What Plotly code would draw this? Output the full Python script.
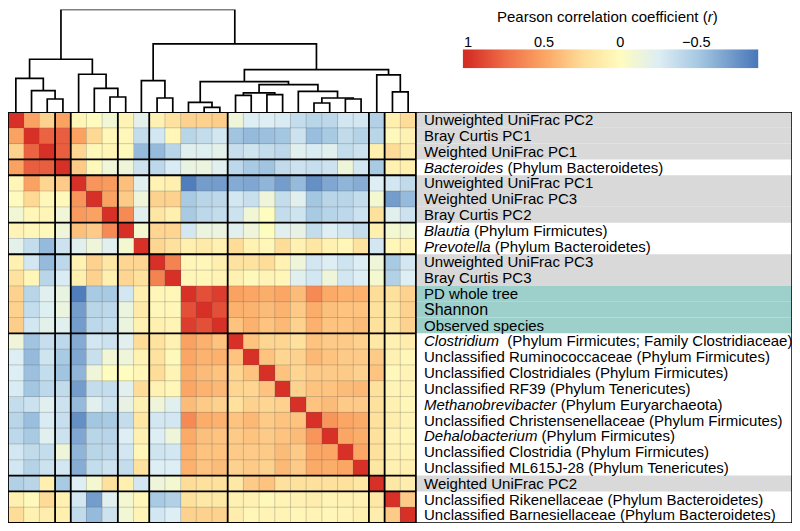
import numpy as np
import plotly.graph_objects as go

# ---------------- data ----------------
row_labels = [
    "Unweighted UniFrac PC2",
    "Bray Curtis PC1",
    "Weighted UniFrac PC1",
    "<i>Bacteroides</i> (Phylum Bacteroidetes)",
    "Unweighted UniFrac PC1",
    "Weighted UniFrac PC3",
    "Bray Curtis PC2",
    "<i>Blautia</i> (Phylum Firmicutes)",
    "<i>Prevotella</i> (Phylum Bacteroidetes)",
    "Unweighted UniFrac PC3",
    "Bray Curtis PC3",
    "PD whole tree",
    "<span style='font-size:16px'>Shannon</span>",
    "Observed species",
    "<i>Clostridium</i>\u00a0 (Phylum Firmicutes; Family Clostridiaceae)",
    "Unclassified Ruminococcaceae (Phylum Firmicutes)",
    "Unclassified Clostridiales (Phylum Firmicutes)",
    "Unclassified RF39 (Phylum Tenericutes)",
    "<i>Methanobrevibacter</i> (Phylum Euryarchaeota)",
    "Unclassified Christensenellaceae (Phylum Firmicutes)",
    "<i>Dehalobacterium</i> (Phylum Firmicutes)",
    "Unclassified Clostridia (Phylum Firmicutes)",
    "Unclassified ML615J-28 (Phylum Tenericutes)",
    "Weighted UniFrac PC2",
    "Unclassified Rikenellaceae (Phylum Bacteroidetes)",
    "Unclassified Barnesiellaceae (Phylum Bacteroidetes)",
]

# label category for each row: ordination PC, taxon, alpha diversity
row_kind = (["pc"] * 3 + ["taxon"] + ["pc"] * 3 + ["taxon"] * 2 + ["pc"] * 2 +
            ["alpha"] * 3 + ["taxon"] * 9 + ["pc"] + ["taxon"] * 2)

# upper triangle of the Pearson r matrix; row i lists r(i, j) for j = i+1 .. 25
upper_rows = [
    [0.52, 0.30, 0.52, 0.06, 0.02, -0.10, 0.07, -0.20, 0.09, 0.20, 0.30, 0.30, 0.32,
     -0.12, -0.25, -0.25, -0.27, -0.37, -0.42, -0.40, -0.30, -0.30, -0.45, 0.10, 0.25],
    [0.80, 0.82, 0.52, 0.27, 0.05, 0.04, -0.37, -0.30, 0.05, -0.42, -0.37, -0.30,
     -0.53, -0.58, -0.55, -0.52, -0.33, -0.56, -0.50, -0.38, -0.44, -0.42, 0.03, 0.09],
    [0.82, 0.28, 0.04, 0.06, 0.03, -0.58, -0.58, -0.42, -0.22, -0.24, -0.20,
     -0.36, -0.32, -0.37, -0.40, -0.22, -0.27, -0.22, -0.37, -0.33, 0.10, 0.26, 0.12],
    [0.33, 0.03, -0.11, -0.12, -0.33, -0.40, -0.27, -0.16, -0.15, -0.22,
     -0.40, -0.50, -0.53, -0.38, -0.33, -0.36, -0.33, -0.12, -0.30, -0.50, 0.09, 0.10],
    [0.58, 0.55, 0.38, -0.22, 0.08, 0.10, -0.87, -0.72, -0.72,
     -0.65, -0.67, -0.60, -0.72, -0.58, -0.78, -0.67, -0.60, -0.64, -0.25, -0.30, -0.38],
    [0.52, 0.33, -0.12, 0.30, 0.30, -0.50, -0.42, -0.40,
     -0.30, -0.35, -0.12, -0.37, -0.22, -0.52, -0.42, -0.42, -0.37, -0.08, -0.72, -0.58],
    [0.63, -0.22, 0.17, 0.10, -0.50, -0.40, -0.37,
     -0.33, -0.10, 0.00, -0.37, -0.32, -0.50, -0.43, -0.40, -0.33, 0.22, -0.22, -0.33],
    [-0.08, 0.28, 0.28, -0.30, -0.15, -0.15,
     -0.22, -0.12, 0.00, -0.22, -0.18, -0.37, -0.25, -0.30, -0.37, 0.10, -0.08, -0.10],
    [0.28, 0.22, 0.10, 0.14, 0.09,
     0.25, 0.08, 0.05, 0.25, 0.09, 0.18, 0.09, 0.05, 0.20, -0.30, 0.05, 0.07],
    [0.66, 0.05, 0.04, 0.10,
     0.20, 0.20, 0.25, 0.08, -0.12, -0.30, -0.25, -0.32, -0.25, -0.12, -0.50, -0.30],
    [0.05, 0.05, 0.07,
     0.09, 0.03, 0.07, 0.05, -0.22, -0.30, -0.12, -0.30, -0.25, -0.08, -0.45, -0.25],
    [0.88, 0.95, 0.52, 0.50, 0.47, 0.50, 0.40, 0.63, 0.48, 0.45, 0.45, 0.25, 0.22, 0.30],
    [0.88, 0.45, 0.44, 0.40, 0.44, 0.33, 0.47, 0.38, 0.37, 0.37, 0.22, 0.16, 0.30],
    [0.37, 0.45, 0.37, 0.42, 0.30, 0.45, 0.37, 0.37, 0.40, 0.22, 0.16, 0.30],
    [0.37, 0.28, 0.28, 0.22, 0.37, 0.33, 0.33, 0.30, 0.16, 0.09, 0.12],
    [0.37, 0.28, 0.30, 0.42, 0.37, 0.33, 0.33, 0.33, 0.09, 0.05],
    [0.37, 0.28, 0.33, 0.33, 0.33, 0.30, 0.37, 0.03, 0.07],
    [0.30, 0.37, 0.37, 0.40, 0.42, 0.22, 0.07, 0.07],
    [0.37, 0.40, 0.33, 0.33, 0.22, 0.09, 0.05],
    [0.58, 0.50, 0.48, 0.22, 0.12, 0.07],
    [0.50, 0.47, 0.22, 0.07, 0.05],
    [0.50, 0.22, 0.09, 0.07],
    [0.18, 0.09, 0.10],
    [0.16, 0.12],
    [0.33],
]

# hierarchical clustering merges: (node a, node b, linkage height); new nodes get ids 26, 27, ...
merges = [
    (2, 3, 39), (1, 26, 64), (0, 27, 101),
    (6, 7, 45), (5, 29, 71), (4, 30, 113), (28, 31, 158),
    (9, 10, 42), (8, 33, 94),
    (12, 13, 14), (11, 35, 29),
    (14, 15, 50), (16, 17, 52), (37, 38, 57),
    (19, 20, 27), (21, 22, 39), (40, 41, 42), (18, 42, 62), (39, 43, 82),
    (36, 44, 91),
    (24, 25, 60), (23, 46, 111), (45, 47, 127),
    (34, 48, 204), (32, 49, 307),
]

# cluster block boundaries (row / column index)
cluster_edges = [0, 3, 4, 7, 9, 14, 23, 24, 26]

# colour scale (Pearson r -> colour)
scale_r = [1.035, 1.0, 0.75, 0.5, 0.25, 0.0, -0.25, -0.5, -0.908]
scale_colors = ["#d52d27", "#d73027", "#f07048", "#fba664", "#fedd98",
                "#fffcc0", "#ddeef4", "#a8cae3", "#4776b8"]
cbar_ticks = [1, 0.5, 0, -0.5]
cbar_ticktext = ["1", "0.5", "0", "\u22120.5"]
cbar_title = "Pearson correlation coefficient (<i>r</i>)"

# ---------------- build ----------------
n = len(row_labels)
corr = np.eye(n)
for i, row in enumerate(upper_rows):
    for k, v in enumerate(row):
        j = i + 1 + k
        corr[i, j] = v
        corr[j, i] = v

cmin, cmax = scale_r[-1], scale_r[0]
colorscale = sorted([[(r - cmin) / (cmax - cmin), c] for r, c in zip(scale_r, scale_colors)])

# the page body has an 8 px margin, so the figure is drawn 8 px in from the window edge
PAGE = 8
W, H = 800 - 2 * PAGE, 531 - 2 * PAGE
hm_l, hm_r, hm_t, hm_b = 8, 416, 112, 523
lab_r = 792
dend_top = 9.5
cb_l, cb_r, cb_t, cb_b = 462.7, 758.3, 49.3, 68.3

px = lambda v: (v - PAGE) / W
py = lambda v: 1 - (v - PAGE) / H

font_family = "Liberation Sans, Arial, Helvetica, sans-serif"

fig = go.Figure()

idx = list(range(n))
fig.add_trace(go.Heatmap(
    z=corr, x=idx, y=idx, coloraxis="coloraxis",
    xaxis="x", yaxis="y", hoverinfo="z",
))

# dendrogram
node_x = {i: float(i) for i in range(n)}
node_h = {i: 0.0 for i in range(n)}
dx, dy = [], []
for k, (a, b, h) in enumerate(merges):
    xa, xb = node_x[a], node_x[b]
    dx += [xa, xa, xb, xb, None]
    dy += [node_h[a], h, h, node_h[b], None]
    node_x[n + k] = (xa + xb) / 2
    node_h[n + k] = h
fig.add_trace(go.Scatter(x=dx, y=dy, mode="lines", line=dict(color="black", width=1.7),
                         xaxis="x2", yaxis="y2", hoverinfo="skip", showlegend=False,
                         cliponaxis=False))

# colour bar gradient (interpolated between the two scale ends)
fig.add_trace(go.Heatmap(
    x=[scale_r[0], scale_r[-1]], y=[0], z=[[scale_r[0], scale_r[-1]]],
    zsmooth="best", coloraxis="coloraxis", xaxis="x3", yaxis="y3", hoverinfo="skip",
))

shapes = []
# label backgrounds
bg = {"pc": "#d9d9d9", "alpha": "#9dcfcb", "taxon": None}
for i, kind in enumerate(row_kind):
    if bg[kind]:
        shapes.append(dict(type="rect", xref="paper", yref="y", x0=px(hm_r), x1=px(lab_r),
                           y0=i - 0.5, y1=i + 0.5, fillcolor=bg[kind], line=dict(width=0),
                           layer="below"))
# thin cell grid
for k in range(1, n):
    if k in cluster_edges:
        continue
    shapes.append(dict(type="line", xref="x", yref="y", x0=k - 0.5, x1=k - 0.5, y0=-0.5, y1=n - 0.5,
                       line=dict(color="rgba(90,90,90,0.28)", width=1), layer="above"))
    shapes.append(dict(type="line", xref="x", yref="y", y0=k - 0.5, y1=k - 0.5, x0=-0.5, x1=n - 0.5,
                       line=dict(color="rgba(90,90,90,0.28)", width=1), layer="above"))
# cluster boxes
for e in cluster_edges:
    shapes.append(dict(type="line", xref="x", yref="y", x0=e - 0.5, x1=e - 0.5, y0=-0.5, y1=n - 0.5,
                       line=dict(color="black", width=1.8), layer="above"))
    shapes.append(dict(type="line", xref="x", yref="y", y0=e - 0.5, y1=e - 0.5, x0=-0.5, x1=n - 0.5,
                       line=dict(color="black", width=1.8), layer="above"))
# label box
shapes.append(dict(type="rect", xref="paper", yref="y", x0=px(hm_r), x1=px(lab_r),
                   y0=-0.5, y1=n - 0.5, line=dict(color="black", width=1.5), layer="above"))

fig.update_layout(
    width=W, height=H,
    margin=dict(l=0, r=0, t=0, b=0),
    template="none",
    paper_bgcolor="white", plot_bgcolor="rgba(0,0,0,0)",
    font=dict(family=font_family, size=15, color="black"),
    showlegend=False,
    coloraxis=dict(colorscale=colorscale, cmin=cmin, cmax=cmax, showscale=False),
    shapes=shapes,
    annotations=[dict(text=cbar_title, xref="paper", yref="paper",
                      x=px((cb_l + cb_r) / 2 - 2.7), y=py(6.0),
                      xanchor="center", yanchor="top", showarrow=False,
                      font=dict(size=15))],
    xaxis=dict(domain=[px(hm_l), px(hm_r)], range=[-0.5, n - 0.5], visible=False,
               anchor="y", automargin=False),
    yaxis=dict(domain=[py(hm_b), py(hm_t)], range=[n - 0.5, -0.5], side="right",
               tickmode="array", tickvals=idx, ticktext=row_labels,
               ticks="outside", ticklen=4, tickcolor="rgba(0,0,0,0)",
               ticklabeloverflow="allow",
               showgrid=False, zeroline=False, showline=False,
               tickfont=dict(size=15), anchor="x", automargin=False),
    xaxis2=dict(domain=[px(hm_l), px(hm_r)], range=[-0.5, n - 0.5], visible=False,
                anchor="y2", automargin=False),
    yaxis2=dict(domain=[py(hm_t), py(dend_top)], range=[0, 307], visible=False,
                anchor="x2", automargin=False),
    xaxis3=dict(domain=[px(cb_l), px(cb_r)], range=[scale_r[0], scale_r[-1]],
                side="top", anchor="y3", tickmode="array", tickvals=cbar_ticks,
                ticktext=cbar_ticktext, ticks="", ticklen=0, ticklabelstandoff=-2,
                ticklabeloverflow="allow",
                showgrid=False, zeroline=False, showline=False,
                tickfont=dict(size=14.5), automargin=False),
    yaxis3=dict(domain=[py(cb_b), py(cb_t)], range=[-0.5, 0.5], visible=False,
                anchor="x3", automargin=False),
)

fig.write_html("out.html")
